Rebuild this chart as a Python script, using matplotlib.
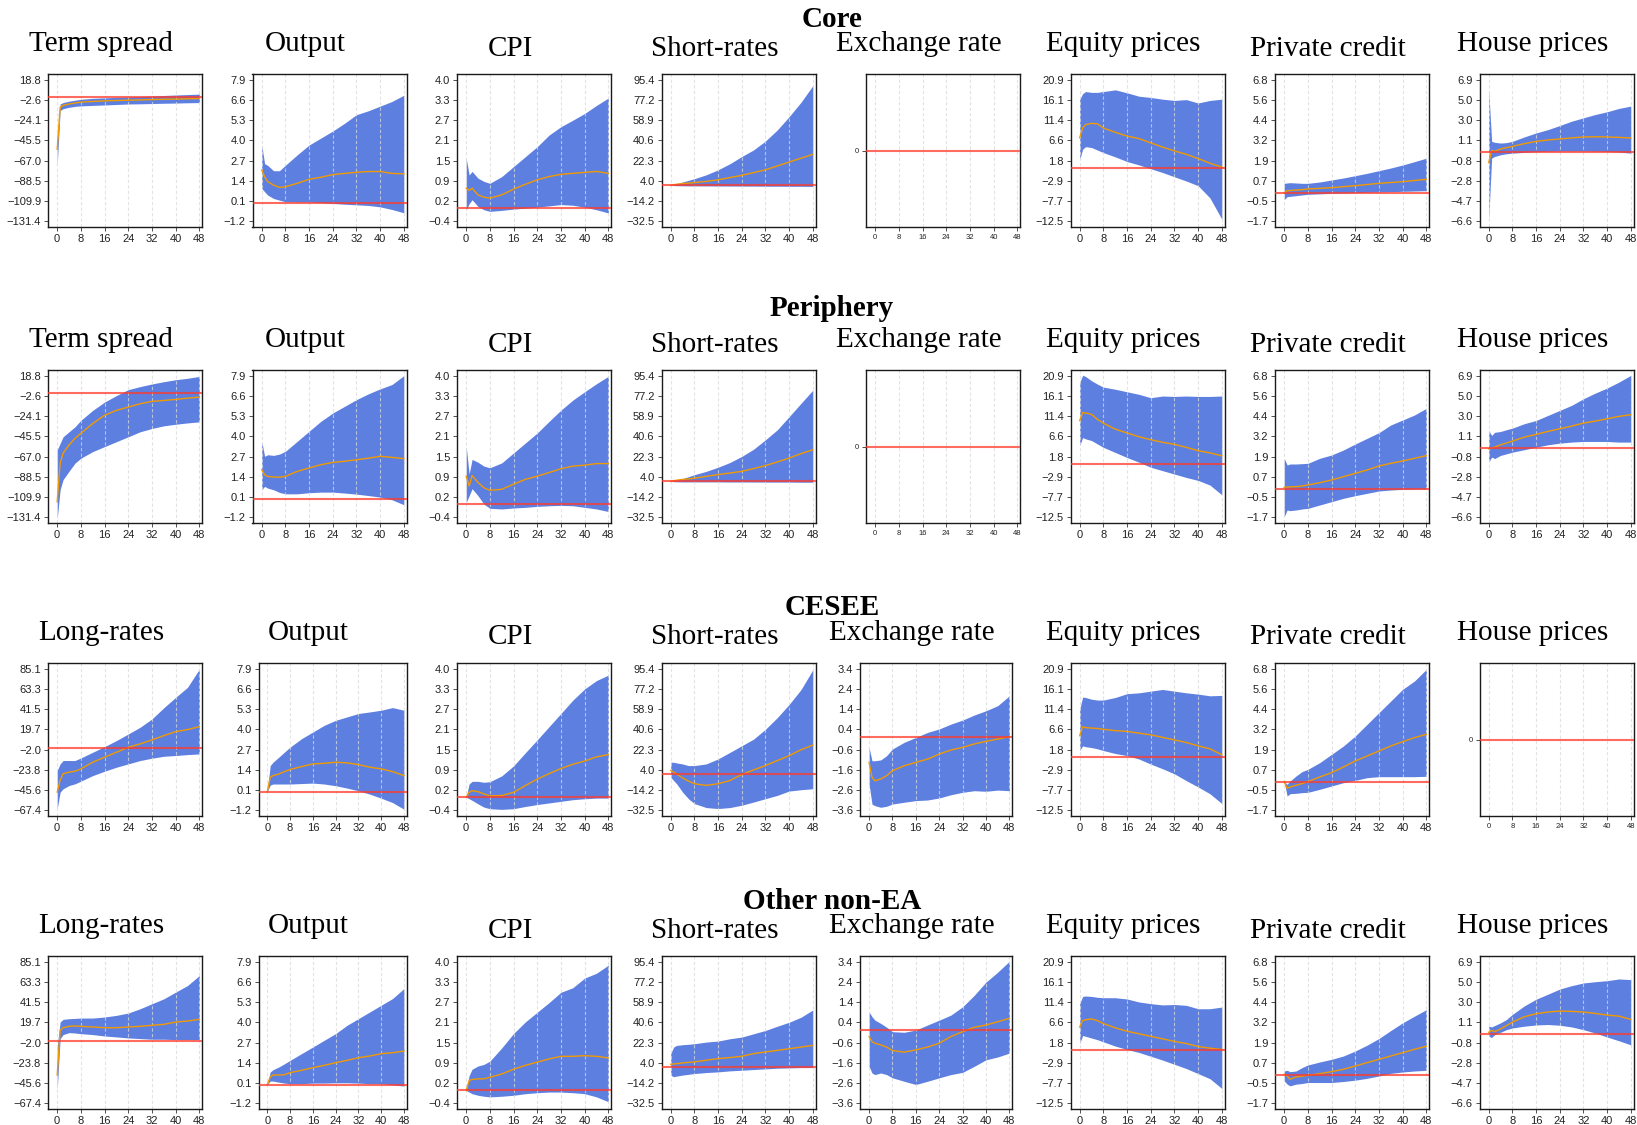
import numpy as np
import matplotlib
matplotlib.use("Agg")
import matplotlib.pyplot as plt

# ---------------- data ----------------
H = [0, 1, 2, 4, 6, 8, 12, 16, 20, 24, 28, 32, 36, 40, 44, 48]
X_TICKS = [0, 8, 16, 24, 32, 40, 48]

TK_TERM = ['−131.4', '−109.9', '−88.5', '−67.0', '−45.5', '−24.1', '−2.6', '18.8']
TK_LONG = ['−67.4', '−45.6', '−23.8', '−2.0', '19.7', '41.5', '63.3', '85.1']
TK_OUTPUT = ['−1.2', '0.1', '1.4', '2.7', '4.0', '5.3', '6.6', '7.9']
TK_CPI = ['−0.4', '0.2', '0.9', '1.5', '2.1', '2.7', '3.3', '4.0']
TK_SHORT = ['−32.5', '−14.2', '4.0', '22.3', '40.6', '58.9', '77.2', '95.4']
TK_FX = ['−3.6', '−2.6', '−1.6', '−0.6', '0.4', '1.4', '2.4', '3.4']
TK_EQUITY = ['−12.5', '−7.7', '−2.9', '1.8', '6.6', '11.4', '16.1', '20.9']
TK_CREDIT = ['−1.7', '−0.5', '0.7', '1.9', '3.2', '4.4', '5.6', '6.8']
TK_HOUSE = ['−6.6', '−4.7', '−2.8', '−0.8', '1.1', '3.0', '5.0', '6.9']

# ---- Core ----
core_term = dict(
    med=[-55, -10.3, -8.5, -7, -6, -5, -4.3, -3.7, -3.3, -3, -2.7, -2.3, -2, -1.8, -1.5, -1.2],
    lo=[-72, -14, -12, -10.5, -9.5, -9, -8.5, -8, -7.5, -7, -6.8, -6.5, -6.2, -6, -5.7, -5.5],
    hi=[-48, -7, -5.5, -4, -3, -2, -1, -0.5, 0, 0.5, 1, 1.5, 2, 2.5, 3, 3.5])
core_output = dict(
    med=[2.1, 1.67, 1.35, 1.13, 0.98, 1.02, 1.24, 1.5, 1.63, 1.8, 1.88, 1.95, 2.0, 2.0, 1.88, 1.85],
    hi=[3.7, 2.5, 2.4, 2.05, 2.05, 2.4, 3.07, 3.7, 4.15, 4.6, 5.1, 5.65, 5.9, 6.2, 6.5, 6.9],
    lo=[0.92, 0.7, 0.49, 0.27, 0.16, 0.06, 0.04, 0.04, 0.0, -0.05, -0.1, -0.14, -0.18, -0.27, -0.44, -0.65])
core_cpi = dict(
    med=[0.63, 0.56, 0.63, 0.42, 0.35, 0.32, 0.42, 0.6, 0.75, 0.89, 0.99, 1.06, 1.09, 1.12, 1.15, 1.09],
    hi=[1.56, 1.04, 1.15, 0.94, 0.84, 0.78, 0.99, 1.3, 1.61, 1.92, 2.28, 2.54, 2.74, 2.95, 3.2, 3.43],
    lo=[-0.04, 0.15, 0.27, 0.06, -0.04, -0.09, -0.06, -0.02, 0.01, 0.04, 0.08, 0.12, 0.1, 0.04, -0.04, -0.14])
core_short = dict(
    med=[0, 0.5, 1.0, 1.5, 2, 2.5, 3.5, 5, 7, 9, 11.5, 14, 17.5, 21, 24.5, 28],
    hi=[0, 0.8, 1.5, 3, 4.5, 6, 9.5, 14, 19.5, 26, 32, 40, 50, 62, 75, 90],
    lo=[0, -0.2, -0.3, -0.4, -0.5, -0.5, -0.5, -0.6, -0.6, -0.7, -0.7, -0.8, -0.8, -0.9, -0.9, -1.0])
core_equity = dict(
    med=[7.2, 9.5, 10.3, 10.6, 10.5, 9.5, 8.5, 7.6, 7.0, 6.0, 5.0, 4.1, 3.3, 2.3, 1.2, 0.3],
    hi=[16.2, 17.6, 18.1, 17.9, 17.9, 18.1, 18.5, 17.8, 17.0, 16.7, 16.3, 16.0, 16.2, 15.4, 16.0, 16.3],
    lo=[2.1, 4.5, 5.1, 4.9, 4.3, 3.7, 2.7, 1.6, 0.8, -0.1, -1.0, -2.0, -3.0, -4.1, -7.0, -12.0])
core_credit = dict(
    med=[0.0, 0.14, 0.15, 0.18, 0.2, 0.24, 0.28, 0.32, 0.38, 0.44, 0.51, 0.58, 0.63, 0.68, 0.75, 0.82],
    hi=[0.58, 0.6, 0.62, 0.6, 0.58, 0.58, 0.66, 0.78, 0.9, 1.04, 1.18, 1.34, 1.5, 1.68, 1.88, 2.09],
    lo=[-0.39, -0.22, -0.2, -0.16, -0.12, -0.08, -0.05, -0.02, 0.0, 0.02, 0.04, 0.06, 0.08, 0.1, 0.12, 0.14])
core_house = dict(
    med=[-1.0, 0.16, 0.06, 0.3, 0.42, 0.54, 0.8, 1.02, 1.15, 1.25, 1.35, 1.44, 1.46, 1.44, 1.4, 1.34],
    hi=[6.0, 1.02, 0.93, 0.86, 0.9, 1.02, 1.44, 1.82, 2.14, 2.53, 2.94, 3.26, 3.58, 3.84, 4.16, 4.38],
    lo=[-6.5, -0.58, -0.42, -0.26, -0.16, -0.1, -0.03, 0.03, 0.07, 0.1, 0.1, 0.1, 0.08, 0.06, 0.0, -0.1])

# ---- Periphery ----
peri_term = dict(
    med=[-115, -74, -63.4, -54.7, -47.7, -42.4, -32, -23.2, -18, -14.5, -11, -8.5, -7.5, -6.4, -5, -4],
    hi=[-60, -53, -46, -40.7, -35.5, -28.5, -18, -9.2, -2.3, 4, 7.2, 10, 12.4, 14.5, 16, 18],
    lo=[-133, -102, -91.4, -82.6, -74, -68.7, -61.7, -56.4, -51.2, -46, -40.7, -37.2, -34.4, -32.7, -31.3, -30.2])
peri_output = dict(
    med=[1.86, 1.54, 1.43, 1.39, 1.38, 1.43, 1.75, 1.97, 2.18, 2.33, 2.4, 2.5, 2.6, 2.72, 2.65, 2.57],
    hi=[3.68, 2.72, 2.82, 2.78, 2.86, 3.04, 3.68, 4.33, 4.97, 5.5, 5.93, 6.36, 6.73, 7.05, 7.33, 7.9],
    lo=[0.57, 0.79, 0.68, 0.57, 0.4, 0.31, 0.31, 0.38, 0.42, 0.42, 0.36, 0.29, 0.2, 0.1, -0.07, -0.39])
peri_cpi = dict(
    med=[0.88, 0.57, 0.9, 0.68, 0.52, 0.44, 0.47, 0.63, 0.78, 0.88, 0.99, 1.11, 1.19, 1.22, 1.27, 1.27],
    hi=[1.8, 0.95, 1.4, 1.31, 1.19, 1.14, 1.29, 1.6, 1.91, 2.22, 2.58, 2.93, 3.24, 3.5, 3.75, 3.98],
    lo=[0.06, 0.27, 0.49, 0.27, 0.01, -0.12, -0.14, -0.11, -0.09, -0.06, -0.04, -0.03, -0.04, -0.09, -0.14, -0.22])
peri_short = dict(
    med=[0, 0.5, 1, 1.7, 2.2, 2.8, 4.5, 6.1, 7.5, 9, 11.5, 14.2, 17.5, 21, 25, 28.5],
    hi=[0, 0.8, 1.3, 2.5, 4.2, 6, 9, 12.7, 17, 22.5, 29, 37.5, 46.5, 58.4, 70.4, 82.3],
    lo=[0, -0.3, -0.4, -0.5, -0.5, -0.5, -0.5, -0.5, -0.6, -0.6, -0.6, -0.7, -0.7, -0.7, -0.8, -0.8])
peri_equity = dict(
    med=[10.3, 12.2, 12.1, 11.8, 10.6, 9.7, 8.3, 7.4, 6.5, 5.8, 5.2, 4.7, 4.0, 3.2, 2.7, 2.0],
    hi=[19.3, 21, 20.7, 19.7, 18.9, 18.2, 17.7, 17.1, 16.5, 15.7, 16.1, 16.0, 16.1, 16.0, 16.0, 16.1],
    lo=[4.4, 6.3, 6.0, 5.6, 4.8, 4.0, 2.8, 1.6, 0.5, -0.7, -1.5, -2.3, -3.1, -3.8, -4.9, -7.2])
peri_credit = dict(
    med=[0.1, 0.12, 0.13, 0.14, 0.18, 0.24, 0.38, 0.54, 0.74, 0.94, 1.14, 1.38, 1.54, 1.68, 1.84, 2.0],
    hi=[1.84, 1.44, 1.5, 1.5, 1.52, 1.54, 1.84, 2.04, 2.34, 2.7, 3.04, 3.38, 3.84, 4.14, 4.44, 4.84],
    lo=[-1.66, -1.26, -1.3, -1.26, -1.2, -1.16, -0.96, -0.76, -0.56, -0.4, -0.26, -0.12, -0.06, -0.02, 0.0, 0.0])
peri_house = dict(
    med=[-0.07, 0.0, 0.09, 0.31, 0.48, 0.66, 1.04, 1.3, 1.59, 1.84, 2.09, 2.38, 2.57, 2.79, 3.02, 3.18],
    hi=[1.68, 1.2, 1.5, 1.58, 1.75, 1.9, 2.32, 2.63, 3.11, 3.59, 4.07, 4.7, 5.24, 5.72, 6.29, 6.93],
    lo=[-1.34, -0.86, -1.0, -0.7, -0.55, -0.39, -0.16, 0.09, 0.31, 0.47, 0.57, 0.63, 0.63, 0.63, 0.57, 0.57])

# ---- CESEE ----
cesee_long = dict(
    med=[-47.8, -35, -28, -26.3, -25.3, -22.8, -15.6, -10.2, -4.9, 0.5, 4.1, 8.4, 13, 17.3, 19.5, 22.7],
    hi=[-24.6, -17.4, -13.8, -13.8, -13.8, -11, -4.9, 1.2, 7.7, 14.8, 22, 31, 43, 54.2, 65, 84.6],
    lo=[-65.7, -47.8, -44.2, -40.7, -38.9, -36, -30, -25.3, -21, -17.4, -13.8, -11.3, -9.2, -8.4, -7.4, -6.7])
cesee_output = dict(
    med=[0, 0.92, 1.03, 1.13, 1.29, 1.42, 1.61, 1.78, 1.82, 1.89, 1.85, 1.74, 1.57, 1.46, 1.29, 1.03],
    hi=[0, 1.67, 1.89, 2.21, 2.54, 2.86, 3.4, 3.83, 4.26, 4.58, 4.8, 5.02, 5.12, 5.23, 5.4, 5.23],
    lo=[0, 0.42, 0.49, 0.49, 0.49, 0.49, 0.52, 0.55, 0.49, 0.38, 0.23, 0.06, -0.16, -0.42, -0.7, -1.13])
cesee_cpi = dict(
    med=[0.01, 0.16, 0.21, 0.18, 0.11, 0.05, 0.06, 0.16, 0.37, 0.57, 0.74, 0.9, 1.03, 1.13, 1.26, 1.33],
    hi=[0.01, 0.42, 0.5, 0.5, 0.47, 0.49, 0.67, 0.98, 1.39, 1.79, 2.2, 2.61, 3.02, 3.37, 3.63, 3.8],
    lo=[0.01, -0.04, -0.09, -0.2, -0.3, -0.35, -0.37, -0.35, -0.28, -0.22, -0.17, -0.12, -0.07, -0.04, -0.02, -0.02])
cesee_short = dict(
    med=[3.4, 2, 0.4, -3.2, -6.1, -8.5, -10, -8.5, -5.6, -0.2, 4, 7.9, 12.4, 16.8, 22.2, 26.4],
    hi=[10.9, 10.9, 10.3, 9.4, 7.9, 7.9, 9.4, 13.9, 19.8, 25.8, 31.8, 40.7, 51.2, 63.1, 76.5, 94.4],
    lo=[-2.6, -5.6, -8.5, -16, -22, -26.4, -30, -30.9, -30, -27.9, -25, -22, -19, -15.1, -13.9, -13])
cesee_fx = dict(
    med=[-1.23, -1.97, -2.14, -2.05, -1.89, -1.64, -1.4, -1.23, -1.07, -0.82, -0.62, -0.49, -0.32, -0.19, -0.08, 0.04],
    hi=[-0.49, -1.15, -1.15, -1.11, -0.9, -0.57, -0.24, 0.0, 0.25, 0.42, 0.66, 0.86, 1.11, 1.32, 1.57, 2.06],
    lo=[-2.3, -3.29, -3.37, -3.45, -3.4, -3.29, -3.2, -3.12, -3.09, -2.99, -2.83, -2.71, -2.63, -2.66, -2.6, -2.63])
cesee_equity = dict(
    med=[5.1, 7.2, 7.0, 6.9, 6.8, 6.6, 6.3, 6.1, 5.7, 5.3, 4.7, 4.1, 3.5, 2.7, 2.0, 0.6],
    hi=[11.3, 14.2, 14.1, 13.7, 13.5, 13.5, 14.1, 15.0, 15.2, 15.6, 16.0, 15.6, 15.2, 14.9, 14.5, 14.6],
    lo=[1.6, 2.7, 2.5, 2.3, 2.0, 1.6, 0.9, 0.4, -0.4, -1.6, -2.7, -3.9, -5.5, -7.0, -8.6, -10.9])
cesee_credit = dict(
    med=[0.02, -0.38, -0.3, -0.2, -0.1, 0.02, 0.3, 0.56, 0.9, 1.26, 1.56, 1.86, 2.16, 2.42, 2.66, 2.86],
    hi=[0.02, -0.14, 0.06, 0.36, 0.62, 0.76, 1.16, 1.66, 2.16, 2.76, 3.46, 4.16, 4.86, 5.56, 6.06, 6.76],
    lo=[0.02, -0.84, -0.7, -0.68, -0.64, -0.62, -0.44, -0.24, -0.04, 0.1, 0.26, 0.32, 0.32, 0.32, 0.32, 0.34])

# ---- Other non-EA ----
other_long = dict(
    med=[-37, 11.2, 14, 15.5, 15.9, 15.5, 14.8, 14, 14, 14.8, 15.5, 16.6, 17.6, 20.1, 21.2, 23],
    hi=[-6.6, 20.1, 23, 23.7, 24, 24.4, 24.4, 25.5, 27.3, 29.8, 34.4, 39.8, 45.1, 52.3, 59.4, 70.1],
    lo=[-53, 2.3, 6.6, 8.7, 8.3, 7.6, 6.6, 5.1, 4.1, 3, 2.3, 1.6, 1.6, 1.2, 1.2, 1.2])
other_output = dict(
    med=[0, 0.49, 0.62, 0.62, 0.64, 0.77, 0.92, 1.09, 1.24, 1.41, 1.56, 1.73, 1.84, 1.99, 2.05, 2.16],
    hi=[0, 0.81, 0.96, 1.13, 1.34, 1.56, 1.99, 2.42, 2.85, 3.28, 3.81, 4.24, 4.67, 5.1, 5.53, 6.17],
    lo=[0, 0.23, 0.23, 0.16, 0.1, 0.06, 0.06, 0.1, 0.1, 0.12, 0.12, 0.1, 0.06, 0.06, -0.01, -0.09])
other_cpi = dict(
    med=[0, 0.31, 0.34, 0.36, 0.36, 0.41, 0.51, 0.66, 0.78, 0.88, 0.98, 1.06, 1.06, 1.08, 1.06, 1.01],
    hi=[0, 0.46, 0.66, 0.76, 0.81, 0.91, 1.32, 1.77, 2.13, 2.43, 2.73, 3.05, 3.19, 3.49, 3.64, 3.89],
    lo=[0, -0.05, -0.1, -0.15, -0.18, -0.2, -0.18, -0.15, -0.1, -0.07, -0.05, -0.05, -0.07, -0.1, -0.2, -0.35])
other_short = dict(
    med=[2.8, 3.1, 3.3, 4, 4.5, 4.9, 6.4, 7.9, 8.8, 10, 12.4, 13.9, 15.3, 16.8, 18.3, 19.8],
    hi=[12.4, 18.3, 19.8, 20.4, 20.8, 21.3, 22.8, 23.7, 25.8, 27.3, 30.3, 33.3, 37.1, 40.7, 45.2, 51.8],
    lo=[-7, -8.5, -7.9, -7, -6.3, -5.6, -4.7, -4.1, -3.2, -2.6, -2, -1.4, -0.8, -0.5, -0.2, -0.2])
other_fx = dict(
    med=[-0.3, -0.55, -0.63, -0.71, -0.82, -0.99, -1.07, -0.96, -0.82, -0.63, -0.3, -0.06, 0.16, 0.27, 0.43, 0.6],
    hi=[0.92, 0.68, 0.51, 0.35, 0.16, -0.06, -0.09, 0.02, 0.27, 0.51, 0.76, 1.17, 1.74, 2.39, 2.88, 3.42],
    lo=[-1.77, -2.1, -2.18, -2.1, -2.18, -2.34, -2.51, -2.67, -2.51, -2.34, -2.18, -2.07, -1.77, -1.45, -1.31, -1.12])
other_equity = dict(
    med=[5.5, 7.0, 7.2, 7.4, 7.0, 6.3, 5.3, 4.5, 3.9, 3.3, 2.7, 2.1, 1.6, 0.9, 0.5, 0.2],
    hi=[11, 12.7, 12.8, 12.7, 12.5, 12.4, 12.4, 12.1, 11.4, 11, 10.7, 10.8, 10.6, 9.8, 9.8, 10.2],
    lo=[1.6, 3.5, 3.3, 2.9, 2.5, 2.0, 1.0, 0.2, -0.5, -1.4, -2.3, -3.3, -4.3, -5.5, -6.7, -9.0])
other_credit = dict(
    med=[0.04, -0.06, -0.26, -0.12, -0.07, -0.02, 0.08, 0.2, 0.34, 0.54, 0.74, 0.94, 1.14, 1.34, 1.54, 1.73],
    hi=[0.24, 0.28, 0.2, 0.24, 0.44, 0.6, 0.78, 0.94, 1.14, 1.44, 1.79, 2.19, 2.67, 3.13, 3.53, 3.92],
    lo=[-0.35, -0.55, -0.65, -0.55, -0.51, -0.45, -0.45, -0.45, -0.39, -0.31, -0.2, -0.06, 0.1, 0.18, 0.24, 0.28])
other_house = dict(
    med=[0.17, 0.36, 0.23, 0.49, 0.81, 1.13, 1.65, 1.94, 2.1, 2.19, 2.16, 2.1, 1.97, 1.81, 1.71, 1.39],
    hi=[0.75, 0.68, 0.81, 1.07, 1.39, 1.87, 2.68, 3.32, 3.8, 4.29, 4.61, 4.87, 4.99, 5.09, 5.25, 5.19],
    lo=[-0.22, -0.32, -0.06, 0.17, 0.42, 0.58, 0.75, 0.87, 0.91, 0.84, 0.68, 0.42, 0.1, -0.28, -0.64, -1.03])

REGIONS = ["Core", "Periphery", "CESEE", "Other non-EA"]
PANELS = [
    [("Term spread", TK_TERM, core_term), ("Output", TK_OUTPUT, core_output), ("CPI", TK_CPI, core_cpi),
     ("Short-rates", TK_SHORT, core_short), ("Exchange rate", None, None), ("Equity prices", TK_EQUITY, core_equity),
     ("Private credit", TK_CREDIT, core_credit), ("House prices", TK_HOUSE, core_house)],
    [("Term spread", TK_TERM, peri_term), ("Output", TK_OUTPUT, peri_output), ("CPI", TK_CPI, peri_cpi),
     ("Short-rates", TK_SHORT, peri_short), ("Exchange rate", None, None), ("Equity prices", TK_EQUITY, peri_equity),
     ("Private credit", TK_CREDIT, peri_credit), ("House prices", TK_HOUSE, peri_house)],
    [("Long-rates", TK_LONG, cesee_long), ("Output", TK_OUTPUT, cesee_output), ("CPI", TK_CPI, cesee_cpi),
     ("Short-rates", TK_SHORT, cesee_short), ("Exchange rate", TK_FX, cesee_fx), ("Equity prices", TK_EQUITY, cesee_equity),
     ("Private credit", TK_CREDIT, cesee_credit), ("House prices", None, None)],
    [("Long-rates", TK_LONG, other_long), ("Output", TK_OUTPUT, other_output), ("CPI", TK_CPI, other_cpi),
     ("Short-rates", TK_SHORT, other_short), ("Exchange rate", TK_FX, other_fx), ("Equity prices", TK_EQUITY, other_equity),
     ("Private credit", TK_CREDIT, other_credit), ("House prices", TK_HOUSE, other_house)],
]

# ---------------- style / layout ----------------
BAND = "#5D7FE0"
MED = "#F29A00"
ZERO = "#FF3A2A"
GRID = "#DADADA"
TICK_FONT = ["Liberation Sans", "DejaVu Sans"]
TITLE_FONT = ["Liberation Serif", "DejaVu Serif"]

FW, FH = 1637, 1125
ROW_TOP = [74, 370, 663, 956]
AX_H = 153
AX_W = 154
COL_RIGHT = [202 + 204.5 * k for k in range(8)]
ROW_TITLE_BASE = [27, 316, 615, 909]
TITLE_BASE = [51, 347, 640, 933]
LOWER_TITLE_COLS = {2, 3, 6}
ADJ = {(2, 1): (6, 0), (3, 1): (6, 0), (2, 4): (-6, -8), (3, 4): (-6, -8)}

fig = plt.figure(figsize=(FW / 100, FH / 100), dpi=100)


def draw_panel(ax, ticks, data):
    ax.set_xlim(-3.1, 48.9)
    for xv in X_TICKS:
        ax.axvline(xv, color=GRID, lw=0.8, ls=(0, (3, 2)), alpha=0.75, zorder=2.5)
    small = data is None
    if small:
        ax.set_ylim(-1, 1)
        ax.set_yticks([0])
        ax.set_yticklabels(["0"])
    else:
        vals = [float(t.replace("−", "-")) for t in ticks]
        pos = np.linspace(vals[0], vals[-1], len(ticks))
        span = vals[-1] - vals[0]
        ax.set_ylim(vals[0] - 0.04 * span, vals[-1] + 0.04 * span)
        ax.set_yticks(pos)
        ax.set_yticklabels(ticks)
        ax.fill_between(H, data["lo"], data["hi"], color=BAND, lw=0, zorder=2)
        ax.plot(H, data["med"], color=MED, lw=1.0, zorder=3)
    ax.axhline(0, color=ZERO, alpha=0.75, lw=1.5, zorder=4)
    ax.set_xticks(X_TICKS)
    ax.set_xticklabels([str(v) for v in X_TICKS])
    fs = 5.5 if small else 8.0
    ax.tick_params(axis="both", direction="out", length=3, width=0.6, color="#333333",
                   labelsize=fs, pad=2, labelcolor="#222222")
    for lab in ax.get_xticklabels() + ax.get_yticklabels():
        lab.set_fontfamily(TICK_FONT)
    for sp in ax.spines.values():
        sp.set_color("#1a1a1a")
        sp.set_linewidth(1.0)


for r, region in enumerate(REGIONS):
    fig.text(832 / FW, 1 - ROW_TITLE_BASE[r] / FH, region, ha="center", va="baseline",
             fontsize=21, fontweight="bold", family=TITLE_FONT)
    for c, (title, ticks, data) in enumerate(PANELS[r]):
        right = COL_RIGHT[c]
        left = right - AX_W
        dl, dr = ADJ.get((r, c), (0, 0))
        left += dl
        right += dr
        top = ROW_TOP[r]
        ax = fig.add_axes([left / FW, 1 - (top + AX_H) / FH, (right - left) / FW, AX_H / FH])
        draw_panel(ax, ticks, data)
        tx = (left + right) / 2 - 24
        ty = TITLE_BASE[r] + (4.5 if c in LOWER_TITLE_COLS else 0)
        fig.text(tx / FW, 1 - ty / FH, title, ha="center", va="baseline",
                 fontsize=21, family=TITLE_FONT)

fig.savefig("out.png", dpi=100, facecolor="white")
